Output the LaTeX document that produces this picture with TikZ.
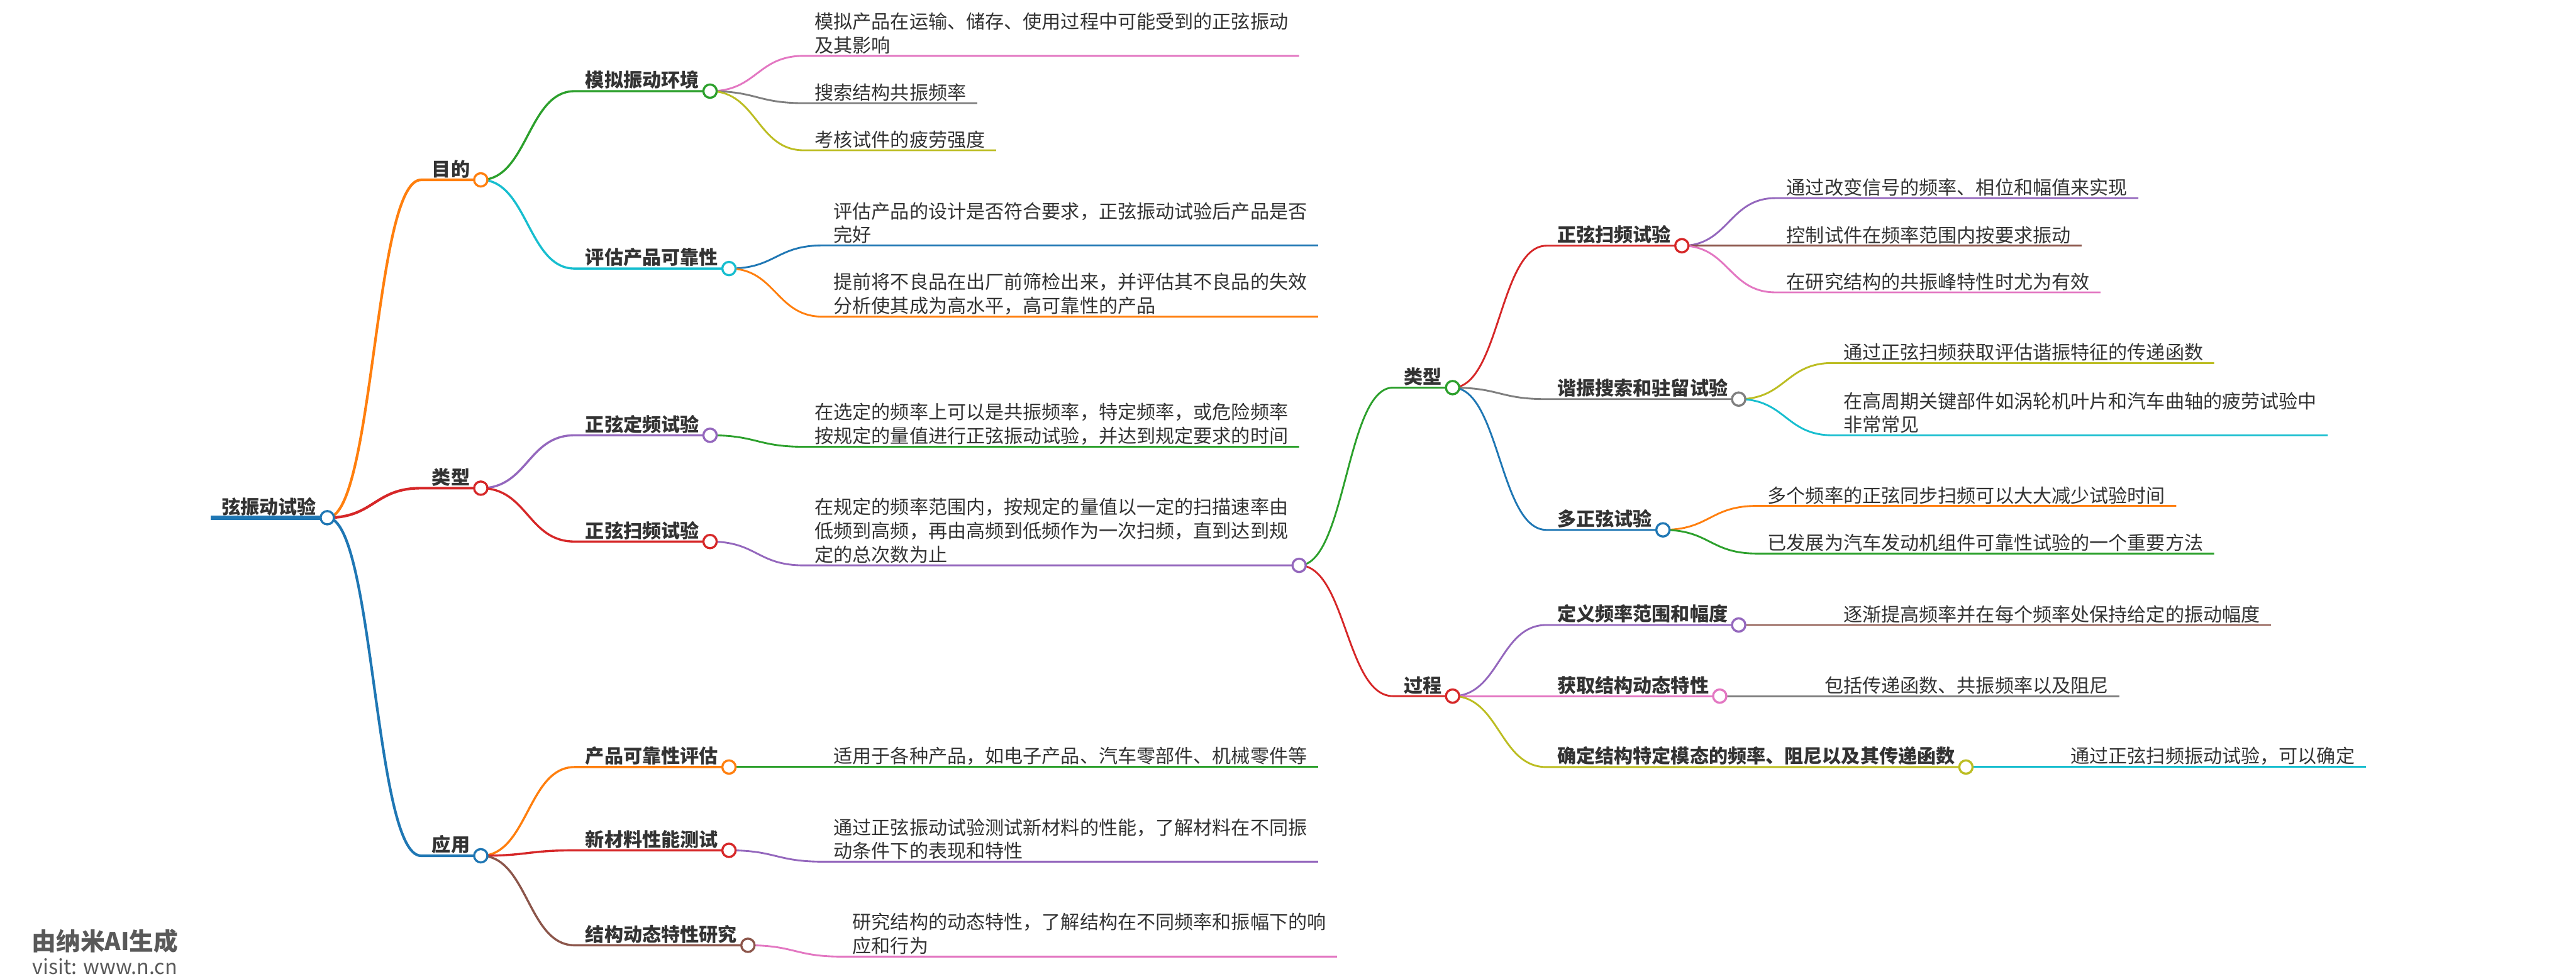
\documentclass[tikz,border=0pt]{standalone}
\usepackage{fontspec}
\setmainfont{Noto Sans CJK SC}
\definecolor{Ink}{HTML}{333333}
\definecolor{MarkGray}{HTML}{595959}
\definecolor{MBlue}{HTML}{1F77B4}
\definecolor{MOrange}{HTML}{FF7F0E}
\definecolor{MGreen}{HTML}{2CA02C}
\definecolor{MRed}{HTML}{D62728}
\definecolor{MPurple}{HTML}{9467BD}
\definecolor{MBrown}{HTML}{8C564B}
\definecolor{MPink}{HTML}{E377C2}
\definecolor{MGray}{HTML}{7F7F7F}
\definecolor{MOlive}{HTML}{BCBD22}
\definecolor{MCyan}{HTML}{17BECF}
\usetikzlibrary{positioning, calc, backgrounds}

\begin{document}
\begin{tikzpicture}[
  x=0.05cm, y=-0.05cm,
  every node/.style={font=\fontsize{16.4pt}{20.6pt}\selectfont},
  topic/.style={font=\fontsize{16.4pt}{20.6pt}\selectfont\bfseries, text=Ink,
    anchor=south west, inner xsep=0.325cm, inner ysep=0pt, align=left, yshift=0.05cm},
  leaf/.style={text=Ink, anchor=south west, inner xsep=0.325cm, inner ysep=0pt,
    align=left, yshift=0.05cm},
  joint/.style={circle, draw=#1, fill=white, line width=0.065cm,
    minimum size=0.405cm, inner sep=0pt},
  lk/.style={draw=#1, line width=0.055cm},
  lk/.default=MGray,
  main/.style={line width=0.08cm},
  sub/.style={line width=0.065cm}
]
\useasboundingbox (0,0) rectangle (1568,596);

% Root
\coordinate (root) at (128.3,315.2);
\node[topic] (root_t) at (root) {弦振动试验};
\node[joint=MBlue] (root_d) at (root -| root_t.east) {};

% First level
\coordinate (goal) at ($(root_d.center |- 0,109.5)+(57.1,0)$);
\node[topic] (goal_t) at (goal) {目的};
\node[joint=MOrange] (goal_d) at (goal -| goal_t.east) {};

\coordinate (kind) at ($(root_d.center |- 0,297.2)+(57.1,0)$);
\node[topic] (kind_t) at (kind) {类型};
\node[joint=MRed] (kind_d) at (kind -| kind_t.east) {};

\coordinate (app) at ($(root_d.center |- 0,521)+(57.1,0)$);
\node[topic] (app_t) at (app) {应用};
\node[joint=MBlue] (app_d) at (app -| app_t.east) {};

% Goal branch
\coordinate (sim) at ($(goal_d.center |- 0,55.5)+(57.1,0)$);
\node[topic] (sim_t) at (sim) {模拟振动环境};
\node[joint=MGreen] (sim_d) at (sim -| sim_t.east) {};

\coordinate (rel) at ($(goal_d.center |- 0,163.5)+(57.1,0)$);
\node[topic] (rel_t) at (rel) {评估产品可靠性};
\node[joint=MCyan] (rel_d) at (rel -| rel_t.east) {};

\coordinate (sim_a) at ($(sim_d.center |- 0,34)+(57.1,0)$);
\node[leaf] (sim_a_t) at (sim_a) {模拟产品在运输、储存、使用过程中可能受到的正弦振动\\及其影响};
\coordinate (sim_b) at ($(sim_d.center |- 0,62.8)+(57.1,0)$);
\node[leaf] (sim_b_t) at (sim_b) {搜索结构共振频率};
\coordinate (sim_c) at ($(sim_d.center |- 0,91.5)+(57.1,0)$);
\node[leaf] (sim_c_t) at (sim_c) {考核试件的疲劳强度};

\coordinate (rel_a) at ($(rel_d.center |- 0,149.4)+(57.1,0)$);
\node[leaf] (rel_a_t) at (rel_a) {评估产品的设计是否符合要求，正弦振动试验后产品是否\\完好};
\coordinate (rel_b) at ($(rel_d.center |- 0,192.8)+(57.1,0)$);
\node[leaf] (rel_b_t) at (rel_b) {提前将不良品在出厂前筛检出来，并评估其不良品的失效\\分析使其成为高水平，高可靠性的产品};

% Type branch
\coordinate (fix) at ($(kind_d.center |- 0,265)+(57.1,0)$);
\node[topic] (fix_t) at (fix) {正弦定频试验};
\node[joint=MPurple] (fix_d) at (fix -| fix_t.east) {};

\coordinate (swp) at ($(kind_d.center |- 0,329.7)+(57.1,0)$);
\node[topic] (swp_t) at (swp) {正弦扫频试验};
\node[joint=MRed] (swp_d) at (swp -| swp_t.east) {};

\coordinate (fix_a) at ($(fix_d.center |- 0,272)+(57.1,0)$);
\node[leaf] (fix_a_t) at (fix_a) {在选定的频率上可以是共振频率，特定频率，或危险频率\\按规定的量值进行正弦振动试验，并达到规定要求的时间};

\coordinate (swp_a) at ($(swp_d.center |- 0,344.2)+(57.1,0)$);
\node[leaf] (swp_a_t) at (swp_a) {在规定的频率范围内，按规定的量值以一定的扫描速率由\\低频到高频，再由高频到低频作为一次扫频，直到达到规\\定的总次数为止};
\node[joint=MPurple] (swp_a_d) at (swp_a -| swp_a_t.east) {};

% Sweep test: types
\coordinate (kind2) at ($(swp_a_d.center |- 0,236)+(57.1,0)$);
\node[topic] (kind2_t) at (kind2) {类型};
\node[joint=MGreen] (kind2_d) at (kind2 -| kind2_t.east) {};

\coordinate (swp2) at ($(kind2_d.center |- 0,149.6)+(57.1,0)$);
\node[topic] (swp2_t) at (swp2) {正弦扫频试验};
\node[joint=MRed] (swp2_d) at (swp2 -| swp2_t.east) {};

\coordinate (res) at ($(kind2_d.center |- 0,243)+(57.1,0)$);
\node[topic] (res_t) at (res) {谐振搜索和驻留试验};
\node[joint=MGray] (res_d) at (res -| res_t.east) {};

\coordinate (multi) at ($(kind2_d.center |- 0,322.6)+(57.1,0)$);
\node[topic] (multi_t) at (multi) {多正弦试验};
\node[joint=MBlue] (multi_d) at (multi -| multi_t.east) {};

\coordinate (swp2_a) at ($(swp2_d.center |- 0,120.6)+(57.1,0)$);
\node[leaf] (swp2_a_t) at (swp2_a) {通过改变信号的频率、相位和幅值来实现};
\coordinate (swp2_b) at ($(swp2_d.center |- 0,149.6)+(57.1,0)$);
\node[leaf] (swp2_b_t) at (swp2_b) {控制试件在频率范围内按要求振动};
\coordinate (swp2_c) at ($(swp2_d.center |- 0,178)+(57.1,0)$);
\node[leaf] (swp2_c_t) at (swp2_c) {在研究结构的共振峰特性时尤为有效};

\coordinate (res_a) at ($(res_d.center |- 0,221)+(57.1,0)$);
\node[leaf] (res_a_t) at (res_a) {通过正弦扫频获取评估谐振特征的传递函数};
\coordinate (res_b) at ($(res_d.center |- 0,265)+(57.1,0)$);
\node[leaf] (res_b_t) at (res_b) {在高周期关键部件如涡轮机叶片和汽车曲轴的疲劳试验中\\非常常见};

\coordinate (multi_a) at ($(multi_d.center |- 0,308)+(57.1,0)$);
\node[leaf] (multi_a_t) at (multi_a) {多个频率的正弦同步扫频可以大大减少试验时间};
\coordinate (multi_b) at ($(multi_d.center |- 0,337)+(57.1,0)$);
\node[leaf] (multi_b_t) at (multi_b) {已发展为汽车发动机组件可靠性试验的一个重要方法};

% Sweep test: process
\coordinate (proc) at ($(swp_a_d.center |- 0,423.8)+(57.1,0)$);
\node[topic] (proc_t) at (proc) {过程};
\node[joint=MRed] (proc_d) at (proc -| proc_t.east) {};

\coordinate (defn) at ($(proc_d.center |- 0,380.5)+(57.1,0)$);
\node[topic] (defn_t) at (defn) {定义频率范围和幅度};
\node[joint=MPurple] (defn_d) at (defn -| defn_t.east) {};

\coordinate (get) at ($(proc_d.center |- 0,423.8)+(57.1,0)$);
\node[topic] (get_t) at (get) {获取结构动态特性};
\node[joint=MPink] (get_d) at (get -| get_t.east) {};

\coordinate (det) at ($(proc_d.center |- 0,467)+(57.1,0)$);
\node[topic] (det_t) at (det) {确定结构特定模态的频率、阻尼以及其传递函数};
\node[joint=MOlive] (det_d) at (det -| det_t.east) {};

\coordinate (defn_a) at ($(defn_d.center |- 0,380.5)+(57.1,0)$);
\node[leaf] (defn_a_t) at (defn_a) {逐渐提高频率并在每个频率处保持给定的振动幅度};
\coordinate (get_a) at ($(get_d.center |- 0,423.8)+(57.1,0)$);
\node[leaf] (get_a_t) at (get_a) {包括传递函数、共振频率以及阻尼};
\coordinate (det_a) at ($(det_d.center |- 0,467)+(57.1,0)$);
\node[leaf] (det_a_t) at (det_a) {通过正弦扫频振动试验，可以确定};

% Application branch
\coordinate (prod) at ($(app_d.center |- 0,467)+(57.1,0)$);
\node[topic] (prod_t) at (prod) {产品可靠性评估};
\node[joint=MOrange] (prod_d) at (prod -| prod_t.east) {};

\coordinate (mat) at ($(app_d.center |- 0,517.7)+(57.1,0)$);
\node[topic] (mat_t) at (mat) {新材料性能测试};
\node[joint=MRed] (mat_d) at (mat -| mat_t.east) {};

\coordinate (dyn) at ($(app_d.center |- 0,575.5)+(57.1,0)$);
\node[topic] (dyn_t) at (dyn) {结构动态特性研究};
\node[joint=MBrown] (dyn_d) at (dyn -| dyn_t.east) {};

\coordinate (prod_a) at ($(prod_d.center |- 0,467)+(57.1,0)$);
\node[leaf] (prod_a_t) at (prod_a) {适用于各种产品，如电子产品、汽车零部件、机械零件等};
\coordinate (mat_a) at ($(mat_d.center |- 0,524.6)+(57.1,0)$);
\node[leaf] (mat_a_t) at (mat_a) {通过正弦振动试验测试新材料的性能，了解材料在不同振\\动条件下的表现和特性};
\coordinate (dyn_a) at ($(dyn_d.center |- 0,582.4)+(57.1,0)$);
\node[leaf] (dyn_a_t) at (dyn_a) {研究结构的动态特性，了解结构在不同频率和振幅下的响\\应和行为};

% Watermark
\node[font=\fontsize{21.1pt}{21.1pt}\selectfont\bfseries, text=MarkGray, anchor=west,
  inner sep=0pt] (mark) at (19.2,572.8) {由纳米AI生成};
\node[font=\fontsize{17.6pt}{17.6pt}\selectfont, text=MarkGray, inner sep=0pt,
  anchor=base west] (visit) at (19.5,593) {visit: www.n.cn};

% Connectors
\begin{scope}[on background layer]
\fill[white] (0,0) rectangle (1568,596);
\draw[lk=MBlue, line width=0.14cm] (root) -- (root_d.center);

\draw[lk=MOrange, main] (root_d.center) .. controls +(28.55,0) and +(-28.55,0) .. (goal) -- (goal_d.center);
\draw[lk=MRed, main] (root_d.center) .. controls +(28.55,0) and +(-28.55,0) .. (kind) -- (kind_d.center);
\draw[lk=MBlue, main] (root_d.center) .. controls +(28.55,0) and +(-28.55,0) .. (app) -- (app_d.center);

\draw[lk=MGreen, sub] (goal_d.center) .. controls +(28.55,0) and +(-28.55,0) .. (sim) -- (sim_d.center);
\draw[lk=MCyan, sub] (goal_d.center) .. controls +(28.55,0) and +(-28.55,0) .. (rel) -- (rel_d.center);
\draw[lk=MPink] (sim_d.center) .. controls +(28.55,0) and +(-28.55,0) .. (sim_a) -- (sim_a -| sim_a_t.east);
\draw[lk=MGray] (sim_d.center) .. controls +(28.55,0) and +(-28.55,0) .. (sim_b) -- (sim_b -| sim_b_t.east);
\draw[lk=MOlive] (sim_d.center) .. controls +(28.55,0) and +(-28.55,0) .. (sim_c) -- (sim_c -| sim_c_t.east);
\draw[lk=MBlue] (rel_d.center) .. controls +(28.55,0) and +(-28.55,0) .. (rel_a) -- (rel_a -| rel_a_t.east);
\draw[lk=MOrange] (rel_d.center) .. controls +(28.55,0) and +(-28.55,0) .. (rel_b) -- (rel_b -| rel_b_t.east);

\draw[lk=MPurple, sub] (kind_d.center) .. controls +(28.55,0) and +(-28.55,0) .. (fix) -- (fix_d.center);
\draw[lk=MRed, sub] (kind_d.center) .. controls +(28.55,0) and +(-28.55,0) .. (swp) -- (swp_d.center);
\draw[lk=MGreen] (fix_d.center) .. controls +(28.55,0) and +(-28.55,0) .. (fix_a) -- (fix_a -| fix_a_t.east);
\draw[lk=MPurple] (swp_d.center) .. controls +(28.55,0) and +(-28.55,0) .. (swp_a) -- (swp_a_d.center);

\draw[lk=MGreen] (swp_a_d.center) .. controls +(28.55,0) and +(-28.55,0) .. (kind2) -- (kind2_d.center);
\draw[lk=MRed] (swp_a_d.center) .. controls +(28.55,0) and +(-28.55,0) .. (proc) -- (proc_d.center);

\draw[lk=MRed] (kind2_d.center) .. controls +(28.55,0) and +(-28.55,0) .. (swp2) -- (swp2_d.center);
\draw[lk=MGray] (kind2_d.center) .. controls +(28.55,0) and +(-28.55,0) .. (res) -- (res_d.center);
\draw[lk=MBlue] (kind2_d.center) .. controls +(28.55,0) and +(-28.55,0) .. (multi) -- (multi_d.center);
\draw[lk=MPurple] (swp2_d.center) .. controls +(28.55,0) and +(-28.55,0) .. (swp2_a) -- (swp2_a -| swp2_a_t.east);
\draw[lk=MBrown] (swp2_d.center) .. controls +(28.55,0) and +(-28.55,0) .. (swp2_b) -- (swp2_b -| swp2_b_t.east);
\draw[lk=MPink] (swp2_d.center) .. controls +(28.55,0) and +(-28.55,0) .. (swp2_c) -- (swp2_c -| swp2_c_t.east);
\draw[lk=MOlive] (res_d.center) .. controls +(28.55,0) and +(-28.55,0) .. (res_a) -- (res_a -| res_a_t.east);
\draw[lk=MCyan] (res_d.center) .. controls +(28.55,0) and +(-28.55,0) .. (res_b) -- (res_b -| res_b_t.east);
\draw[lk=MOrange] (multi_d.center) .. controls +(28.55,0) and +(-28.55,0) .. (multi_a) -- (multi_a -| multi_a_t.east);
\draw[lk=MGreen] (multi_d.center) .. controls +(28.55,0) and +(-28.55,0) .. (multi_b) -- (multi_b -| multi_b_t.east);

\draw[lk=MPurple] (proc_d.center) .. controls +(28.55,0) and +(-28.55,0) .. (defn) -- (defn_d.center);
\draw[lk=MPink] (proc_d.center) .. controls +(28.55,0) and +(-28.55,0) .. (get) -- (get_d.center);
\draw[lk=MOlive] (proc_d.center) .. controls +(28.55,0) and +(-28.55,0) .. (det) -- (det_d.center);
\draw[lk=MBrown] (defn_d.center) -- (defn_a) -- (defn_a -| defn_a_t.east);
\draw[lk=MGray] (get_d.center) -- (get_a) -- (get_a -| get_a_t.east);
\draw[lk=MCyan] (det_d.center) -- (det_a) -- (det_a -| det_a_t.east);

\draw[lk=MOrange, sub] (app_d.center) .. controls +(28.55,0) and +(-28.55,0) .. (prod) -- (prod_d.center);
\draw[lk=MRed, sub] (app_d.center) .. controls +(28.55,0) and +(-28.55,0) .. (mat) -- (mat_d.center);
\draw[lk=MBrown, sub] (app_d.center) .. controls +(28.55,0) and +(-28.55,0) .. (dyn) -- (dyn_d.center);
\draw[lk=MGreen] (prod_d.center) -- (prod_a) -- (prod_a -| prod_a_t.east);
\draw[lk=MPurple] (mat_d.center) .. controls +(28.55,0) and +(-28.55,0) .. (mat_a) -- (mat_a -| mat_a_t.east);
\draw[lk=MPink] (dyn_d.center) .. controls +(28.55,0) and +(-28.55,0) .. (dyn_a) -- (dyn_a -| dyn_a_t.east);
\end{scope}

\end{tikzpicture}
\end{document}
